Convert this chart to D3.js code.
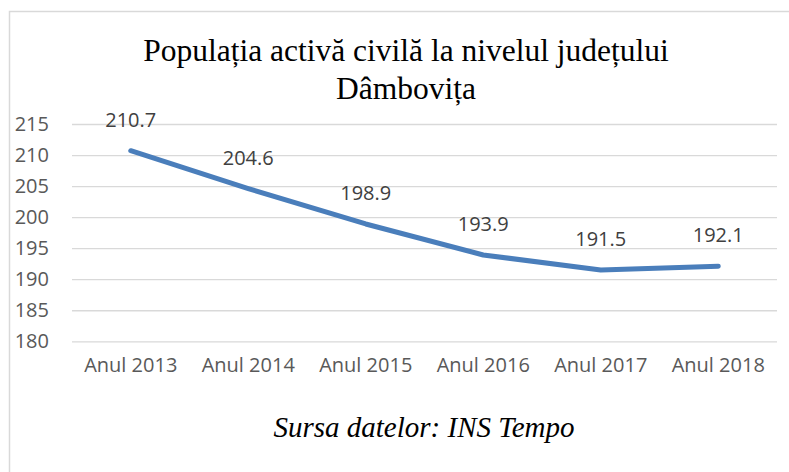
<!DOCTYPE html>
<html>
<head>
<meta charset="utf-8">
<script src="https://cdn.jsdelivr.net/npm/d3@7"></script>
<style>
  body { margin: 0; background: #fff; }
  .tick text { font-family: "Open Sans", sans-serif; font-size: 20px; fill: #595959; }
  .label { font-family: "Open Sans", sans-serif; font-size: 20px; fill: #404040; }
</style>
</head>
<body>
<svg width="789" height="472"></svg>
<script>
const categories = ["Anul 2013", "Anul 2014", "Anul 2015", "Anul 2016", "Anul 2017", "Anul 2018"];
const values = [210.7, 204.6, 198.9, 193.9, 191.5, 192.1];
const yTicks = [180, 185, 190, 195, 200, 205, 210, 215];
const titleLines = ["Populația activă civilă la nivelul județului", "Dâmbovița"];
const source = "Sursa datelor: INS Tempo";

const serif = "'Liberation Serif', 'Times New Roman', serif";

const svg = d3.select("svg");

// chart frame (extends past the picture on the right and bottom)
svg.append("rect")
  .attr("x", 9.5).attr("y", 11.5)
  .attr("width", 820).attr("height", 500)
  .attr("fill", "#fff")
  .attr("stroke", "#d9d9d9")
  .attr("stroke-width", 1.5);

const plotLeft = 72, plotRight = 777, plotTop = 124, plotBottom = 341.3;

const x = d3.scaleBand().domain(categories).range([plotLeft, plotRight]);
const y = d3.scaleLinear().domain([180, 215]).range([plotBottom, plotTop]);

// gridlines + y labels
const yAxis = svg.append("g")
  .attr("transform", "translate(" + plotLeft + ",0)")
  .call(d3.axisLeft(y).tickValues(yTicks).tickSize(-(plotRight - plotLeft)).tickPadding(23));
yAxis.select(".domain").remove();
yAxis.selectAll(".tick line").attr("stroke", "#d9d9d9").attr("stroke-width", 1.3);

// x labels
const xAxis = svg.append("g")
  .attr("transform", "translate(0," + plotBottom + ")")
  .call(d3.axisBottom(x).tickSize(0).tickPadding(17));
xAxis.select(".domain").remove();

// line
const line = d3.line()
  .x((d, i) => x(categories[i]) + x.bandwidth() / 2)
  .y(d => y(d));

svg.append("path")
  .datum(values)
  .attr("fill", "none")
  .attr("stroke", "#4a7ebb")
  .attr("stroke-width", 5)
  .attr("stroke-linecap", "round")
  .attr("stroke-linejoin", "round")
  .attr("d", line);

// data labels
svg.selectAll(".label")
  .data(values)
  .enter().append("text")
  .attr("class", "label")
  .attr("x", (d, i) => x(categories[i]) + x.bandwidth() / 2)
  .attr("y", d => y(d) - 24)
  .attr("text-anchor", "middle")
  .text(d => d.toFixed(1));

// title
svg.selectAll(".title")
  .data(titleLines)
  .enter().append("text")
  .attr("class", "title")
  .attr("x", 406)
  .attr("y", (d, i) => 61 + i * 38)
  .attr("text-anchor", "middle")
  .style("font-family", serif)
  .style("font-size", "31.5px")
  .attr("fill", "#000")
  .text(d => d);

// source note
svg.append("text")
  .attr("class", "source")
  .attr("x", 424)
  .attr("y", 437)
  .attr("text-anchor", "middle")
  .style("font-family", serif)
  .style("font-size", "29px")
  .style("font-style", "italic")
  .attr("fill", "#000")
  .text(source);
</script>
</body>
</html>
